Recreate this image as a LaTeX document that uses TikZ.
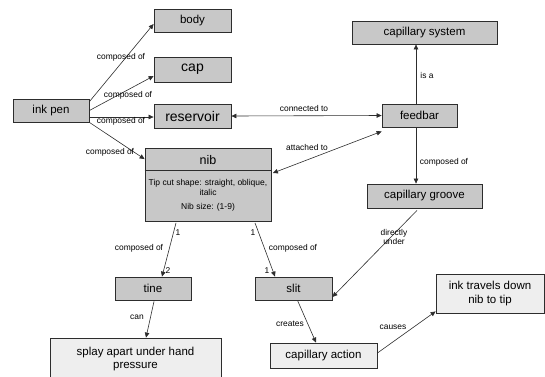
\documentclass[tikz,border=0pt]{standalone}
\usepackage{fontspec}
\setmainfont{Liberation Sans}
\usetikzlibrary{calc,arrows.meta}
\definecolor{boxgray}{RGB}{200,200,200}
\definecolor{boxlight}{RGB}{238,238,238}
\definecolor{inkline}{RGB}{45,45,45}
\begin{document}
\begin{tikzpicture}[x=1pt,y=-1pt,
  concept/.style={draw=inkline, fill=boxgray, line width=0.8pt, inner sep=0pt,
    font=\fontsize{11.5}{13.5}\selectfont},
  result/.style={concept, fill=boxlight, align=center},
  bigtext/.style={font=\fontsize{14}{16}\selectfont},
  attr/.style={inner sep=0pt, font=\fontsize{8.5}{9.5}\selectfont},
  lbl/.style={inner sep=0pt, font=\fontsize{8.4}{9.5}\selectfont, align=center},
  arr/.style={draw=inkline, line width=0.6pt, -{Triangle[length=5pt,width=4.5pt]}},
  biarr/.style={arr, {Triangle[length=5pt,width=4.5pt]}-{Triangle[length=5pt,width=4.5pt]}}
]
\useasboundingbox (0,0) rectangle (545,376);

% concepts
\node[concept, minimum width=76pt, minimum height=23pt] (inkpen) at (51,110.5) {ink pen};
\node[concept, minimum width=77pt, minimum height=23pt] (body) at (192.5,20.5) {body};
\node[concept, bigtext, minimum width=77pt, minimum height=25pt] (cap) at (192.5,69.5) {cap};
\node[concept, bigtext, minimum width=77pt, minimum height=24pt] (reservoir) at (192.5,116) {reservoir};
\node[concept, minimum width=145pt, minimum height=23pt] (capsys) at (424.5,32.5) {capillary system};
\node[concept, minimum width=75pt, minimum height=23pt] (feedbar) at (419.5,115.5) {feedbar};
\node[concept, minimum width=115pt, minimum height=24pt] (groove) at (424.5,196) {capillary groove};
\node[concept, minimum width=76pt, minimum height=23pt] (tine) at (153,288.5) {tine};
\node[concept, minimum width=77pt, minimum height=23pt] (slit) at (293.5,288.5) {slit};

% nib with its attributes
\node[concept, minimum width=126pt, minimum height=73pt] (nib) at (208,185) {};
\draw[draw=inkline, line width=1pt] (nib.west |- 0,170.5) -- (nib.east |- 0,170.5);
\node[font=\fontsize{12.5}{14}\selectfont, inner sep=0pt] (nibtitle) at (208,160) {nib};
\node[attr, align=center] (nibshape) at (208,187.5) {Tip cut shape: straight, oblique,\\italic};
\node[attr] (nibsize) at (208,207) {Nib size: (1-9)};

% outcomes
\node[result, minimum width=171pt, minimum height=42pt] (splay) at (135.5,359)
  {splay apart under hand\\pressure};
\node[result, minimum width=107pt, minimum height=25pt] (capaction) at (323.5,355.5) {capillary action};
\node[result, minimum width=108pt, minimum height=39pt] (inktravels) at (490,293.5)
  {ink travels down\\nib to tip};

% links from the pen
\draw[arr] ($(inkpen.north east)+(0,3)$) -- ($(body.west)+(0,3.5)$)
  node[lbl, at={(121,57)}] {composed of};
\draw[arr] (inkpen.east) -- ($(cap.west)+(0,6.5)$)
  node[lbl, at={(128,95)}] {composed of};
\draw[arr] ($(inkpen.east)+(0,6.5)$) -- ($(reservoir.west)+(0,1)$)
  node[lbl, at={(121,121)}] {composed of};
\draw[arr] (inkpen.south east) -- ($(nib.north west)+(0,11)$)
  node[lbl, at={(110,152)}] {composed of};

% feed system
\draw[biarr] (reservoir.east) -- (feedbar.west)
  node[lbl, at={(304,108)}] {connected to};
\draw[biarr] ($(nib.east)+(1.5,-12)$) -- ($(feedbar.south west)+(0,4)$)
  node[lbl, at={(307,147)}] {attached to};
\coordinate (fbtop) at ($(feedbar.north)+(-3.5,0)$);
\draw[arr] (fbtop) -- (fbtop |- capsys.south)
  node[lbl, at={(427,75)}] {is a};
\coordinate (fbbot) at ($(feedbar.south)+(-3.5,0)$);
\draw[arr] (fbbot) -- (fbbot |- groove.north)
  node[lbl, at={(444,162)}] {composed of};
\draw[arr] ($(groove.south)+(-7.5,2)$) -- ($(slit.east)+(0,8.5)$)
  node[lbl, at={(394,237)}] {directly\\under};

% nib parts
\draw[arr] ($(nib.south)+(-32,1)$) -- ($(tine.north)+(9,0)$)
  node[lbl, at={(139,248)}] {composed of}
  node[lbl, at={(178,233)}] {1}
  node[lbl, at={(168,271)}] {2};
\draw[arr] ($(nib.south)+(47,1)$) -- ($(slit.north)+(-18.5,0)$)
  node[lbl, at={(293,248)}] {composed of}
  node[lbl, at={(253,233)}] {1}
  node[lbl, at={(267,271)}] {1};

% consequences
\draw[arr] ($(tine.south)+(1,1)$) -- ($(splay.north)+(10.5,0)$)
  node[lbl, at={(137,317)}] {can};
\draw[arr] ($(slit.south)+(4,0)$) -- ($(capaction.north)+(-7.5,0)$)
  node[lbl, at={(290,324)}] {creates};
\draw[arr] ($(capaction.east)+(0,-2.5)$) -- ($(inktravels.south west)+(0,-2)$)
  node[lbl, at={(393,327)}] {causes};
\end{tikzpicture}
\end{document}
